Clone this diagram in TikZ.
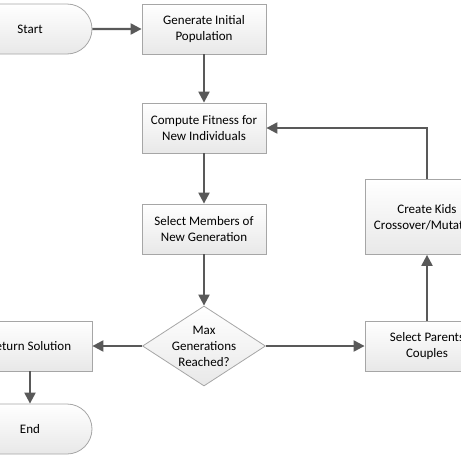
\documentclass[tikz,border=0pt]{standalone}
\usepackage{fontspec}
\setmainfont{Carlito}
\usetikzlibrary{shapes.geometric,shapes.misc,arrows.meta}
\definecolor{arr}{HTML}{595959}
\definecolor{bord}{HTML}{A6A6A6}
\tikzset{
  boxbase/.style={draw=bord, line width=0.8pt, top color=white, bottom color=black!9,
    font=\fontsize{13}{16}\selectfont, align=center, inner sep=0pt},
  procbox/.style={boxbase, rectangle, minimum width=124pt, minimum height=50pt},
  termbox/.style={boxbase, rounded rectangle, minimum width=124pt, minimum height=50pt},
  decbox/.style={boxbase, diamond, minimum width=123pt, minimum height=80pt},
  txt/.style={font=\fontsize{13}{16}\selectfont, align=center, inner sep=0pt},
  flow/.style={draw=arr, line width=2.2pt, -{Triangle[length=11pt,width=11pt]}},
}
\begin{document}
\begin{tikzpicture}[x=1pt,y=-1pt]
\useasboundingbox (0,0) rectangle (461,461);
\clip (0,0) rectangle (461,461);
\node[termbox] (start) at (30,29) {Start};
\node[procbox] (gen) at (204,29) {Generate Initial\\Population};
\node[procbox] (fit) at (204,128) {Compute Fitness for\\New Individuals};
\node[procbox] (sel) at (204,229) {Select Members of\\New Generation};
\node[decbox] (dec) at (204,346) {};
\node[txt] (dect) at (dec) {Max\\Generations\\Reached?};
\node[procbox] (ret) at (30,346) {Return Solution};
\node[termbox] (end) at (30,429) {End};
\node[procbox] (par) at (427,346) {Select Parents\\Couples};
\node[procbox, minimum height=75pt] (kids) at (427,217) {Create Kids\\Crossover/Mutation};
\draw[flow] (start) -- (gen);
\draw[flow] (gen) -- (fit);
\draw[flow] (fit) -- (sel);
\draw[flow] (sel) -- (dec);
\draw[flow] (dec) -- (ret);
\draw[flow] (ret) -- (end);
\draw[flow] (dec) -- (par);
\draw[flow] (par) -- (kids);
\draw[flow] (kids.north) |- (fit.east);
\end{tikzpicture}
\end{document}
